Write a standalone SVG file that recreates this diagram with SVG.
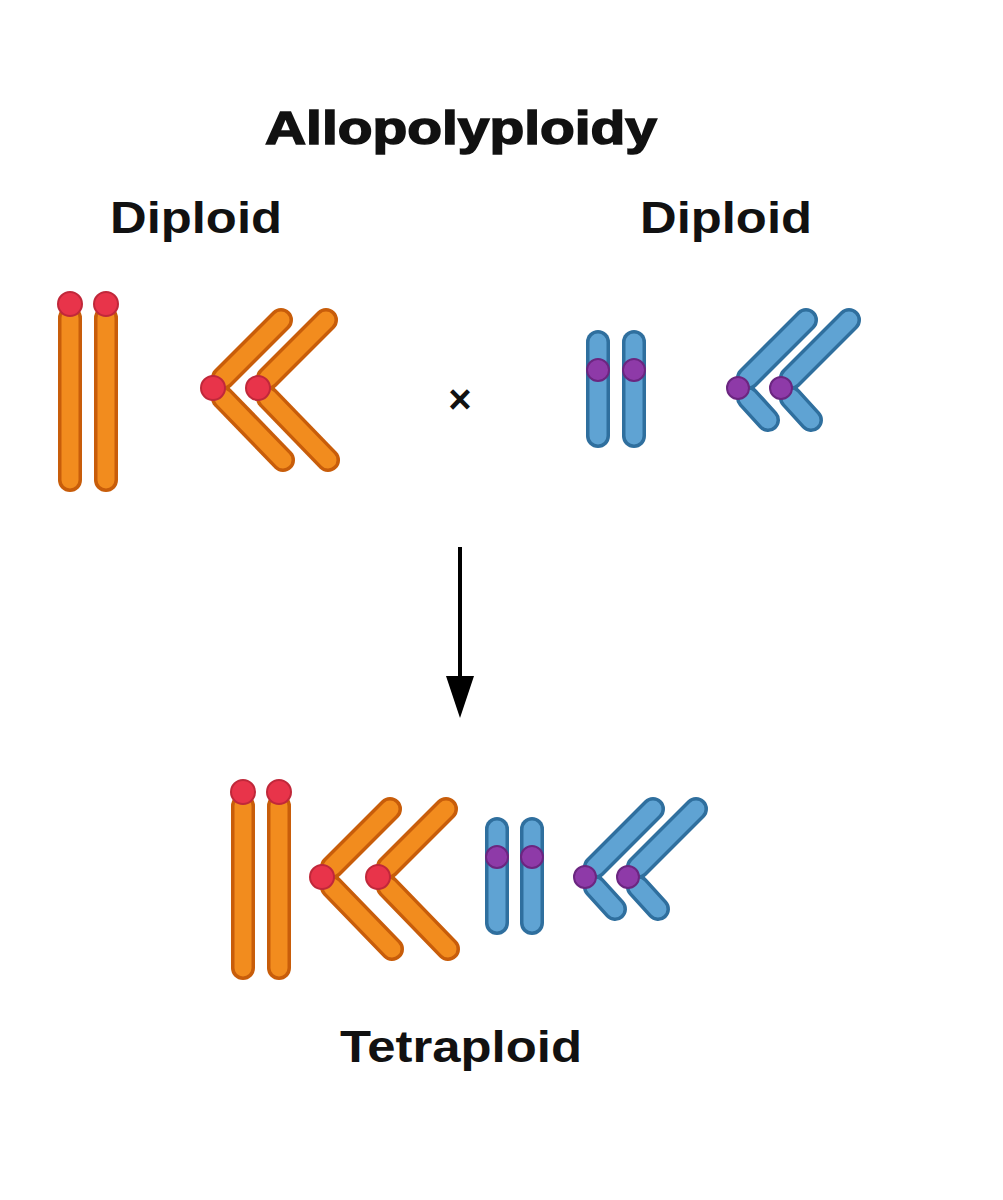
<svg xmlns="http://www.w3.org/2000/svg" width="1003" height="1200" viewBox="0 0 1003 1200">
<style>
text{font-family:"Liberation Sans",Arial,sans-serif;font-weight:bold;fill:#111;text-anchor:middle}
.oo{stroke:#c85d0a;stroke-width:24;stroke-linecap:round;fill:none}
.oi{stroke:#f28c1e;stroke-width:17;stroke-linecap:round;fill:none}
.bo{stroke:#2f6f9e;stroke-width:24;stroke-linecap:round;fill:none}
.bi{stroke:#5fa3d3;stroke-width:17;stroke-linecap:round;fill:none}
.rc{fill:#e8344a;stroke:#c0283a;stroke-width:2}
.pc{fill:#8e3aa8;stroke:#6b2680;stroke-width:2}
</style>
<defs>
<g id="orod"><line class="oo" x1="0" y1="14" x2="0" y2="176"/><line class="oi" x1="0" y1="14" x2="0" y2="176"/><circle class="rc" cx="0" cy="0" r="12"/></g>
<g id="ov"><line class="oo" x1="10" y1="-10" x2="68" y2="-68"/><line class="oi" x1="10" y1="-10" x2="68" y2="-68"/><line class="oo" x1="10" y1="10" x2="70" y2="72"/><line class="oi" x1="10" y1="10" x2="70" y2="72"/><circle class="rc" cx="0" cy="0" r="12"/></g>
<g id="brod"><line class="bo" x1="0" y1="-28" x2="0" y2="66"/><line class="bi" x1="0" y1="-28" x2="0" y2="66"/><circle class="pc" cx="0" cy="0" r="11"/></g>
<g id="bv"><line class="bo" x1="10" y1="-10" x2="68" y2="-68"/><line class="bi" x1="10" y1="-10" x2="68" y2="-68"/><line class="bo" x1="10" y1="10" x2="30" y2="32"/><line class="bi" x1="10" y1="10" x2="30" y2="32"/><circle class="pc" cx="0" cy="0" r="11"/></g>
</defs>
<rect width="1003" height="1200" fill="#fff"/>
<text x="461" y="144" font-size="46" stroke="#111" stroke-width="1.5" textLength="392" lengthAdjust="spacingAndGlyphs">Allopolyploidy</text>
<text x="196" y="233" font-size="44" textLength="172" lengthAdjust="spacingAndGlyphs">Diploid</text>
<text x="726" y="233" font-size="44" textLength="172" lengthAdjust="spacingAndGlyphs">Diploid</text>
<text x="461" y="1062" font-size="44" textLength="242" lengthAdjust="spacingAndGlyphs">Tetraploid</text>
<text x="460" y="413" font-size="40" font-weight="normal">×</text>
<g id="parent1">
<use href="#orod" x="70" y="304"/><use href="#orod" x="106" y="304"/>
<use href="#ov" x="213" y="388"/><use href="#ov" x="258" y="388"/>
</g>
<g id="parent2">
<use href="#brod" x="598" y="370"/><use href="#brod" x="634" y="370"/>
<use href="#bv" x="738" y="388"/><use href="#bv" x="781" y="388"/>
</g>
<g id="tetraploid">
<use href="#orod" x="243" y="792"/><use href="#orod" x="279" y="792"/>
<use href="#ov" x="322" y="877"/><use href="#ov" x="378" y="877"/>
<use href="#brod" x="497" y="857"/><use href="#brod" x="532" y="857"/>
<use href="#bv" x="585" y="877"/><use href="#bv" x="628" y="877"/>
</g>
<g id="connectors">
<line x1="460" y1="547" x2="460" y2="680" stroke="#000" stroke-width="4"/>
<polygon points="446,676 474,676 460,718" fill="#000"/>
</g>
</svg>
